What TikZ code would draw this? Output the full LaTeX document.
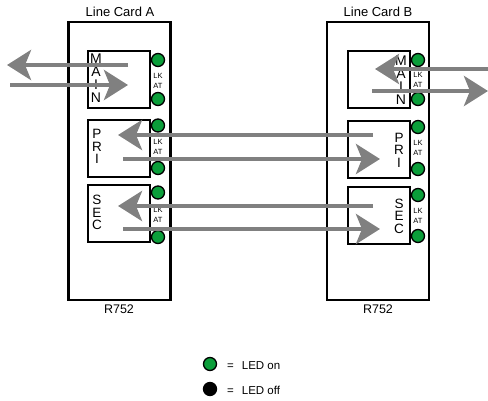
\documentclass[tikz,border=0pt]{standalone}
\usepackage{fontspec}
\setmainfont{Liberation Sans}
\usepackage{tikz}
\usetikzlibrary{arrows.meta,positioning}
\definecolor{ledgruen}{HTML}{0B9E3A}
\definecolor{pfeilgrau}{HTML}{808080}
\tikzset{
  karte/.style={draw=black,line width=2.2pt,minimum width=102pt,minimum height=278pt,inner sep=0pt},
  port/.style={draw=black,line width=2pt,minimum width=62pt,minimum height=57pt,inner sep=0pt},
  led/.style={circle,draw=black,fill=ledgruen,line width=1.3pt,minimum size=13pt,inner sep=0pt},
  ledaus/.style={led,fill=black},
  buchst/.style={align=center,inner sep=0pt,font=\fontsize{13.5}{12.5}\selectfont},
  lkat/.style={align=center,inner sep=0pt,font=\fontsize{7.5}{10}\selectfont},
  titel/.style={inner sep=0pt,font=\fontsize{13}{15}\selectfont},
  legende/.style={anchor=west,inner sep=0pt,font=\fontsize{11.5}{13}\selectfont},
  pfl/.style={-{Stealth[length=24pt,width=30pt,inset=6pt]},pfeilgrau,line width=4.5pt},
}
\begin{document}
\begin{tikzpicture}[x=1pt,y=-1pt]
  \useasboundingbox (0,0) rectangle (488,401);
  \node[karte] (kA) at (119.5,161) {};
  \node[karte] (kB) at (378,161) {};
  \node[titel] (tA) at (120,12) {Line Card A};
  \node[titel] (tB) at (378,12) {Line Card B};
  \node[titel,font=\fontsize{12.5}{14}\selectfont] (rA) at (119,309) {R752};
  \node[titel,font=\fontsize{12.5}{14}\selectfont] (rB) at (378,309) {R752};

  \node[port] (mainA) at (118.5,79.5) {};
  \node[port] (priA) at (118.5,148.5) {};
  \node[port] (secA) at (118.5,214) {};
  \node[port] (mainB) at (378.5,80) {};
  \node[port] (priB) at (378.5,150) {};
  \node[port] (secB) at (378.5,216) {};
  \node[buchst,font=\fontsize{14}{13}\selectfont] (bmA) at (96,78.5) {M\\A\\I\\N};
  \node[buchst] (bpA) at (97,146.5) {P\\R\\I};
  \node[buchst] (bsA) at (97,212.5) {S\\E\\C};
  \node[buchst,font=\fontsize{14}{13}\selectfont] (bmB) at (401,80.5) {M\\A\\I\\N};
  \node[buchst] (bpB) at (399,150) {P\\R\\I};
  \node[buchst] (bsB) at (399,216) {S\\E\\C};

  \node[led] (lA1) at (158,60) {};
  \node[led] (lA2) at (158,99) {};
  \node[led] (lA3) at (158,125.5) {};
  \node[led] (lA4) at (158,168) {};
  \node[led] (lA5) at (158,192.5) {};
  \node[led] (lA6) at (158,237) {};
  \node[led] (lB1) at (418,60) {};
  \node[led] (lB2) at (418,99) {};
  \node[led] (lB3) at (418,127) {};
  \node[led] (lB4) at (418,169) {};
  \node[led] (lB5) at (418,195) {};
  \node[led] (lB6) at (418,236) {};
  \node[lkat] (kmA) at (158,81) {LK\\AT};
  \node[lkat] (kpA) at (158,146.5) {LK\\AT};
  \node[lkat] (ksA) at (158,214.5) {LK\\AT};
  \node[lkat] (kmB) at (418,80) {LK\\AT};
  \node[lkat] (kpB) at (418,148) {LK\\AT};
  \node[lkat] (ksB) at (418,215.5) {LK\\AT};

  \coordinate (linksA) at (7,65);
  \coordinate (linksE) at (10,85);
  \coordinate (rechtsE) at (488,69);
  \coordinate (rechtsA) at (488,91);
  \coordinate (mA1) at (128,65);
  \coordinate (mA2) at (128,85);
  \coordinate (mB1) at (375,69);
  \coordinate (mB2) at (372,91);
  \coordinate (pA1) at (118,135);
  \coordinate (pA2) at (123,159);
  \coordinate (pB1) at (373,135);
  \coordinate (pB2) at (380,159);
  \coordinate (sA1) at (118,206);
  \coordinate (sA2) at (123,229);
  \coordinate (sB1) at (373,206);
  \coordinate (sB2) at (380,229);
  \draw[pfl] (mA1) -- (linksA);
  \draw[pfl] (linksE) -- (mA2);
  \draw[pfl] (rechtsE) -- (mB1);
  \draw[pfl] (mB2) -- (rechtsA);
  \draw[pfl] (pB1) -- (pA1);
  \draw[pfl] (pA2) -- (pB2);
  \draw[pfl] (sB1) -- (sA1);
  \draw[pfl] (sA2) -- (sB2);

  \node[led] (lon) at (210,364) {};
  \node[ledaus] (loff) at (210,389) {};
  \node[legende] (ton) at (227,365.5) {=\hspace{8pt}LED on};
  \node[legende] (toff) at (227,390.5) {=\hspace{8pt}LED off};
\end{tikzpicture}
\end{document}
